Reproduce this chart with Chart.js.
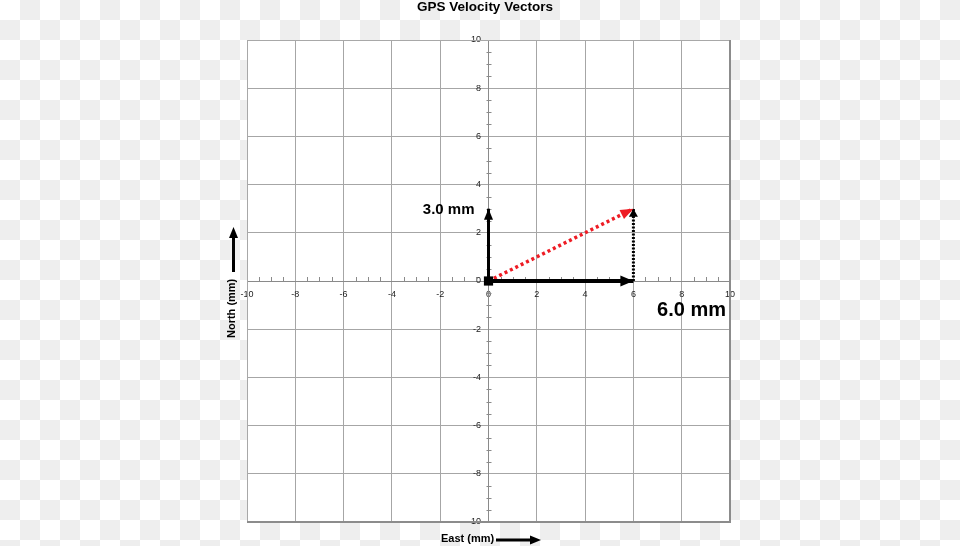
<!DOCTYPE html>
<html>
<head>
<meta charset="utf-8">
<title>GPS Velocity Vectors</title>
<script src="https://cdn.jsdelivr.net/npm/chart.js@4.4.0/dist/chart.umd.min.js"></script>
<style>
  html, body { margin: 0; padding: 0; }
  body {
    width: 960px; height: 546px;
    background: repeating-conic-gradient(#eeeeee 0 25%, #ffffff 0 50%) 0 0 / 40px 40px;
  }
  canvas { display: block; }
</style>
</head>
<body>
<canvas id="chart" width="960" height="546"></canvas>
<script>
// axis range
const axisMin = -10;
const axisMax = 10;
const majorStep = 2;
const minorStep = 0.5;

// vectors (mm)
const originX = [0];
const originY = [0];
const eastX = [0, 6];
const eastY = [0, 0];
const northX = [0, 0];
const northY = [0, 3];
const velocityX = [0, 6];
const velocityY = [0, 3];
const riseX = [6, 6];
const riseY = [0, 3];

const titleText = 'GPS Velocity Vectors';
const eastLabel = '6.0 mm';
const northLabel = '3.0 mm';
const eastAxisTitle = 'East (mm)';
const northAxisTitle = 'North (mm)';

const FONT = '"Liberation Sans", Arial, sans-serif';

function pts(xs, ys) {
    return xs.map(function(x, i) { return {x: x, y: ys[i]}; });
}

function arrow(ctx, x0, y0, x1, y1, width, len, half, color) {
    const ang = Math.atan2(y1 - y0, x1 - x0);
    ctx.save();
    ctx.strokeStyle = color;
    ctx.fillStyle = color;
    ctx.lineWidth = width;
    ctx.beginPath();
    ctx.moveTo(x0, y0);
    ctx.lineTo(x1 - Math.cos(ang) * len * 0.6, y1 - Math.sin(ang) * len * 0.6);
    ctx.stroke();
    ctx.translate(x1, y1);
    ctx.rotate(ang);
    ctx.beginPath();
    ctx.moveTo(0, 0);
    ctx.lineTo(-len, -half);
    ctx.lineTo(-len, half);
    ctx.closePath();
    ctx.fill();
    ctx.restore();
}

const decorations = {
    id: 'decorations',
    beforeDraw(chart) {
        const a = chart.chartArea, ctx = chart.ctx;
        ctx.save();
        ctx.fillStyle = '#ffffff';
        ctx.fillRect(a.left, a.top, a.right - a.left, a.bottom - a.top);
        ctx.restore();
    },
    beforeDatasetsDraw(chart) {
        // minor ticks on the centre axes
        const ctx = chart.ctx, xs = chart.scales.x, ys = chart.scales.y;
        const x0 = xs.getPixelForValue(0), y0 = ys.getPixelForValue(0);
        ctx.save();
        ctx.strokeStyle = '#8a8a8a';
        ctx.lineWidth = 1;
        ctx.beginPath();
        for (let v = axisMin; v <= axisMax; v += minorStep) {
            if (v % majorStep === 0) continue;
            const px = Math.round(xs.getPixelForValue(v)) + 0.5;
            ctx.moveTo(px, y0 - 4);
            ctx.lineTo(px, y0);
            const py = Math.round(ys.getPixelForValue(v)) + 0.5;
            ctx.moveTo(x0 - 2, py);
            ctx.lineTo(x0 + 3, py);
        }
        ctx.stroke();
        ctx.restore();
    },
    afterDatasetsDraw(chart) {
        const ctx = chart.ctx;
        chart.data.datasets.forEach(function(ds, i) {
            if (!ds.head) return;
            const el = chart.getDatasetMeta(i).data;
            const p0 = el[el.length - 2], p1 = el[el.length - 1];
            const ang = Math.atan2(p1.y - p0.y, p1.x - p0.x);
            ctx.save();
            ctx.translate(p1.x, p1.y);
            ctx.rotate(ang);
            ctx.beginPath();
            ctx.moveTo(0, 0);
            ctx.lineTo(-ds.head.len, -ds.head.half);
            ctx.lineTo(-ds.head.len, ds.head.half);
            ctx.closePath();
            ctx.fillStyle = ds.head.color;
            ctx.fill();
            ctx.restore();
        });
    },
    afterDraw(chart) {
        const a = chart.chartArea, ctx = chart.ctx, xs = chart.scales.x, ys = chart.scales.y;
        ctx.save();
        // plot frame
        ctx.strokeStyle = '#a8a8a8';
        ctx.lineWidth = 1;
        ctx.strokeRect(a.left + 0.5, a.top + 0.5, a.right - a.left - 1, a.bottom - a.top - 1);
        ctx.strokeStyle = '#8c8c8c';
        ctx.lineWidth = 2;
        ctx.beginPath();
        ctx.moveTo(a.left, a.bottom);
        ctx.lineTo(a.right, a.bottom);
        ctx.lineTo(a.right, a.top);
        ctx.stroke();

        // title
        ctx.fillStyle = '#000';
        ctx.textAlign = 'center';
        ctx.textBaseline = 'middle';
        ctx.font = 'bold 13.5px ' + FONT;
        ctx.fillText(titleText, 485, 7);

        // vector labels
        ctx.textBaseline = 'alphabetic';
        ctx.textAlign = 'right';
        ctx.font = 'bold 15px ' + FONT;
        ctx.fillText(northLabel, xs.getPixelForValue(0) - 14, ys.getPixelForValue(northY[1]) + 5);
        ctx.font = 'bold 20px ' + FONT;
        ctx.fillText(eastLabel, xs.getPixelForValue(axisMax) - 4, ys.getPixelForValue(0) + 35);

        // axis titles with arrows
        ctx.font = 'bold 11px ' + FONT;
        ctx.textAlign = 'left';
        ctx.textBaseline = 'middle';
        ctx.fillText(eastAxisTitle, 441, 539);
        arrow(ctx, 496, 540, 541, 540, 3, 11, 4.5, '#000');

        ctx.save();
        ctx.translate(232, 338);
        ctx.rotate(-Math.PI / 2);
        ctx.fillText(northAxisTitle, 0, 0);
        ctx.restore();
        arrow(ctx, 233.5, 272, 233.5, 227, 3, 11, 4.5, '#000');
        ctx.restore();
    }
};

new Chart(document.getElementById('chart'), {
    type: 'scatter',
    data: {
        datasets: [{
            data: pts(originX, originY),
            pointStyle: 'rect',
            pointRadius: 6.5,
            pointBackgroundColor: '#000',
            pointBorderWidth: 0,
            showLine: false
        }, {
            data: pts(eastX, eastY),
            showLine: true,
            borderColor: '#000',
            borderWidth: 4,
            pointRadius: 0,
            head: {len: 13, half: 5.5, color: '#000'}
        }, {
            data: pts(northX, northY),
            showLine: true,
            borderColor: '#000',
            borderWidth: 3,
            pointRadius: 0,
            head: {len: 11, half: 4.5, color: '#000'}
        }, {
            data: pts(velocityX, velocityY),
            showLine: true,
            borderColor: '#ee1c24',
            borderWidth: 3.5,
            borderDash: [3, 3],
            pointRadius: 0,
            head: {len: 13, half: 5, color: '#ee1c24'}
        }, {
            data: pts(riseX, riseY),
            showLine: true,
            borderColor: '#000',
            borderWidth: 3,
            borderDash: [2, 1.5],
            pointRadius: 0,
            head: {len: 8, half: 4.5, color: '#000'}
        }]
    },
    options: {
        responsive: false,
        animation: false,
        layout: {
            padding: {left: 247, right: 230, top: 40, bottom: 24}
        },
        plugins: {
            legend: {display: false},
            tooltip: {enabled: false}
        },
        scales: {
            x: {
                type: 'linear',
                min: axisMin,
                max: axisMax,
                position: {y: 0},
                ticks: {
                    stepSize: majorStep,
                    autoSkip: false,
                    maxRotation: 0,
                    padding: 8,
                    color: '#222',
                    font: {family: FONT, size: 9}
                },
                grid: {color: '#a6a6a6', lineWidth: 1, drawTicks: false},
                border: {display: true, color: '#8a8a8a', width: 1}
            },
            y: {
                type: 'linear',
                min: axisMin,
                max: axisMax,
                position: {x: 0},
                ticks: {
                    stepSize: majorStep,
                    autoSkip: false,
                    color: '#222',
                    font: {family: FONT, size: 9},
                    // centre-positioned y labels get no padding, so pad with spaces
                    callback: function(value) { return value + '   '; }
                },
                grid: {color: '#a6a6a6', lineWidth: 1, drawTicks: false},
                border: {display: true, color: '#8a8a8a', width: 1}
            }
        }
    },
    plugins: [decorations]
});
</script>
</body>
</html>
